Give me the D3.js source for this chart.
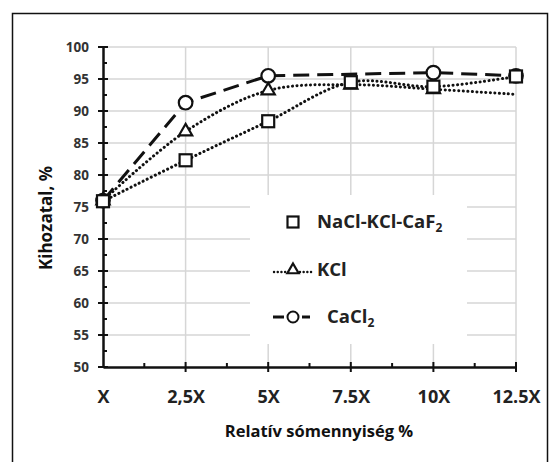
<!DOCTYPE html>
<html><head><meta charset="utf-8">
<script src="https://cdn.jsdelivr.net/npm/d3@7"></script>
<style>
html,body{margin:0;padding:0;background:#fff;}
svg{display:block;}
text{font-family:"Open Sans",sans-serif;font-weight:700;}
</style></head>
<body>
<svg id="chart" width="560" height="462"></svg>
<script>
// ---- data ----
const categories = ["X", "2,5X", "5X", "7.5X", "10X", "12.5X"];
const naclKclCaf2 = [75.9, 82.3, 88.4, 94.5, 93.8, 95.4];
const kcl = [76.0, 86.8, 93.2, 94.1, 93.4, 92.6];
const kclHasMarker = [true, true, true, true, true, false];
const cacl2 = [76.0, 91.3, 95.5, null, 96.0, 95.5];
const yTicks = [50, 55, 60, 65, 70, 75, 80, 85, 90, 95, 100];
const yMinorTicks = [52.5, 57.5, 62.5, 67.5, 72.5, 77.5, 82.5, 87.5, 92.5, 97.5];
const yTitle = "Kihozatal, %";
const xTitle = "Relatív sómennyiség %";

// ---- layout ----
const svg = d3.select("#chart");
const L = 103, R = 516, T = 47, B = 367;
const x = d3.scalePoint().domain(categories).range([L, R]);
const y = d3.scaleLinear().domain([50, 100]).range([B, T]);
const xMid = (i) => (x(categories[i]) + x(categories[i + 1])) / 2;

// outer frame
svg.append("rect").attr("x", 12.5).attr("y", 13.5).attr("width", 535).attr("height", 460)
  .attr("fill", "none").attr("stroke", "#111").attr("stroke-width", 1.5);

// gridlines
const grid = svg.append("g").attr("stroke", "#d6d6d6").attr("stroke-width", 1.5);
grid.selectAll("line.h").data(yTicks.filter(d => d > 50)).join("line")
  .attr("x1", L).attr("x2", R).attr("y1", d => y(d)).attr("y2", d => y(d));
grid.selectAll("line.v").data(categories.slice(1)).join("line")
  .attr("x1", d => x(d)).attr("x2", d => x(d)).attr("y1", T).attr("y2", B);

// legend background (covers gridlines)
svg.append("rect").attr("x", 250).attr("y", 195).attr("width", 217).attr("height", 149).attr("fill", "#fff");

// axes
const yAxis = d3.axisLeft(y).tickValues(yTicks).tickSize(0).tickPadding(14).tickFormat(d3.format("d"));
const gy = svg.append("g").attr("transform", `translate(${L},0)`).call(yAxis);
gy.select(".domain").attr("stroke", "#111").attr("stroke-width", 2.5);
gy.selectAll("text").attr("font-size", 13.5).attr("fill", "#333").attr("font-family", "Open Sans").attr("font-weight", 700);
const xAxis = d3.axisBottom(x).tickSize(0).tickPadding(23);
const gx = svg.append("g").attr("transform", `translate(0,${B})`).call(xAxis);
gx.select(".domain").attr("stroke", "#111").attr("stroke-width", 2.5);
gx.selectAll("text").attr("font-size", 18).attr("fill", "#222").attr("font-family", "Open Sans").attr("font-weight", 700);

// ticks
const tk = svg.append("g").attr("stroke", "#111").attr("stroke-width", 2);
tk.selectAll("line.ym").data(yTicks).join("line")
  .attr("x1", L - 5).attr("x2", L + 5).attr("y1", d => y(d)).attr("y2", d => y(d));
tk.selectAll("line.yn").data(yMinorTicks).join("line")
  .attr("x1", L).attr("x2", L + 4).attr("y1", d => y(d)).attr("y2", d => y(d));
tk.selectAll("line.xm").data(categories.slice(1)).join("line")
  .attr("x1", d => x(d)).attr("x2", d => x(d)).attr("y1", B - 5).attr("y2", B + 5);
tk.selectAll("line.xn").data(d3.range(categories.length - 1)).join("line")
  .attr("x1", i => xMid(i)).attr("x2", i => xMid(i)).attr("y1", B - 4).attr("y2", B);

// titles
svg.append("text").attr("transform", `translate(52,218) rotate(-90)`).attr("text-anchor", "middle")
  .attr("font-size", 17).attr("fill", "#111").text(yTitle);
svg.append("text").attr("x", 319).attr("y", 437).attr("text-anchor", "middle")
  .attr("font-size", 16.5).attr("fill", "#111").text(xTitle);

// lines
const pts = (arr) => arr.map((v, i) => ({c: categories[i], v, i})).filter(d => d.v !== null);
const dotted = "0.1 4.4";
const lineSmooth = d3.line().x(d => x(d.c)).y(d => y(d.v)).curve(d3.curveCatmullRom.alpha(0.5));
const lineStraight = d3.line().x(d => x(d.c)).y(d => y(d.v));

svg.append("path").attr("d", lineStraight(pts(cacl2))).attr("fill", "none")
  .attr("stroke", "#111").attr("stroke-width", 3).attr("stroke-dasharray", "16 8");
svg.append("path").attr("d", lineSmooth(pts(kcl))).attr("fill", "none")
  .attr("stroke", "#111").attr("stroke-width", 3).attr("stroke-linecap", "round").attr("stroke-dasharray", dotted);
svg.append("path").attr("d", lineSmooth(pts(naclKclCaf2))).attr("fill", "none")
  .attr("stroke", "#111").attr("stroke-width", 3).attr("stroke-linecap", "round").attr("stroke-dasharray", dotted);

// markers
const mk = {fill: "#fff", stroke: "#111", sw: 2.2};
svg.append("g").selectAll("circle").data(pts(cacl2)).join("circle")
  .attr("cx", d => x(d.c)).attr("cy", d => y(d.v)).attr("r", 6.8)
  .attr("fill", mk.fill).attr("stroke", mk.stroke).attr("stroke-width", mk.sw);
const tri = d3.symbol().type(d3.symbolTriangle).size(75);
svg.append("g").selectAll("path").data(pts(kcl).filter(d => kclHasMarker[d.i])).join("path")
  .attr("transform", d => `translate(${x(d.c)},${y(d.v)})`).attr("d", tri)
  .attr("fill", mk.fill).attr("stroke", mk.stroke).attr("stroke-width", mk.sw);
svg.append("g").selectAll("rect").data(pts(naclKclCaf2)).join("rect")
  .attr("x", d => x(d.c) - 6).attr("y", d => y(d.v) - 6).attr("width", 12).attr("height", 12)
  .attr("fill", mk.fill).attr("stroke", mk.stroke).attr("stroke-width", mk.sw);

// legend
const lg = svg.append("g");
const lx = 293;
const rows = [222, 270, 317];
lg.append("rect").attr("x", lx - 5.5).attr("y", rows[0] - 5.5).attr("width", 11).attr("height", 11)
  .attr("fill", "#fff").attr("stroke", "#111").attr("stroke-width", 2.2);
lg.append("line").attr("x1", 274).attr("x2", 313).attr("y1", rows[1] + 2).attr("y2", rows[1] + 2)
  .attr("stroke", "#111").attr("stroke-width", 2.4).attr("stroke-linecap", "round").attr("stroke-dasharray", "0.1 3.6");
lg.append("path").attr("transform", `translate(${lx},${rows[1]})`).attr("d", d3.symbol().type(d3.symbolTriangle).size(55))
  .attr("fill", "#fff").attr("stroke", "#111").attr("stroke-width", 2.2);
lg.append("line").attr("x1", 273).attr("x2", 284).attr("y1", rows[2]).attr("y2", rows[2]).attr("stroke", "#111").attr("stroke-width", 3);
lg.append("line").attr("x1", 302).attr("x2", 310).attr("y1", rows[2]).attr("y2", rows[2]).attr("stroke", "#111").attr("stroke-width", 3);
lg.append("circle").attr("cx", lx).attr("cy", rows[2]).attr("r", 5.5)
  .attr("fill", "#fff").attr("stroke", "#111").attr("stroke-width", 2);

function sub(t, base, subTxt) {
  t.append("tspan").text(base);
  t.append("tspan").attr("font-size", 12).attr("dy", 4).text(subTxt);
}
const t1 = lg.append("text").attr("x", 317).attr("y", rows[0] + 6).attr("font-size", 18.5).attr("fill", "#222");
sub(t1, "NaCl-KCl-CaF", "2");
lg.append("text").attr("x", 317).attr("y", rows[1] + 6).attr("font-size", 18.5).attr("fill", "#222").text("KCl");
const t3 = lg.append("text").attr("x", 327).attr("y", rows[2] + 6).attr("font-size", 18.5).attr("fill", "#222");
sub(t3, "CaCl", "2");
</script>
</body></html>
